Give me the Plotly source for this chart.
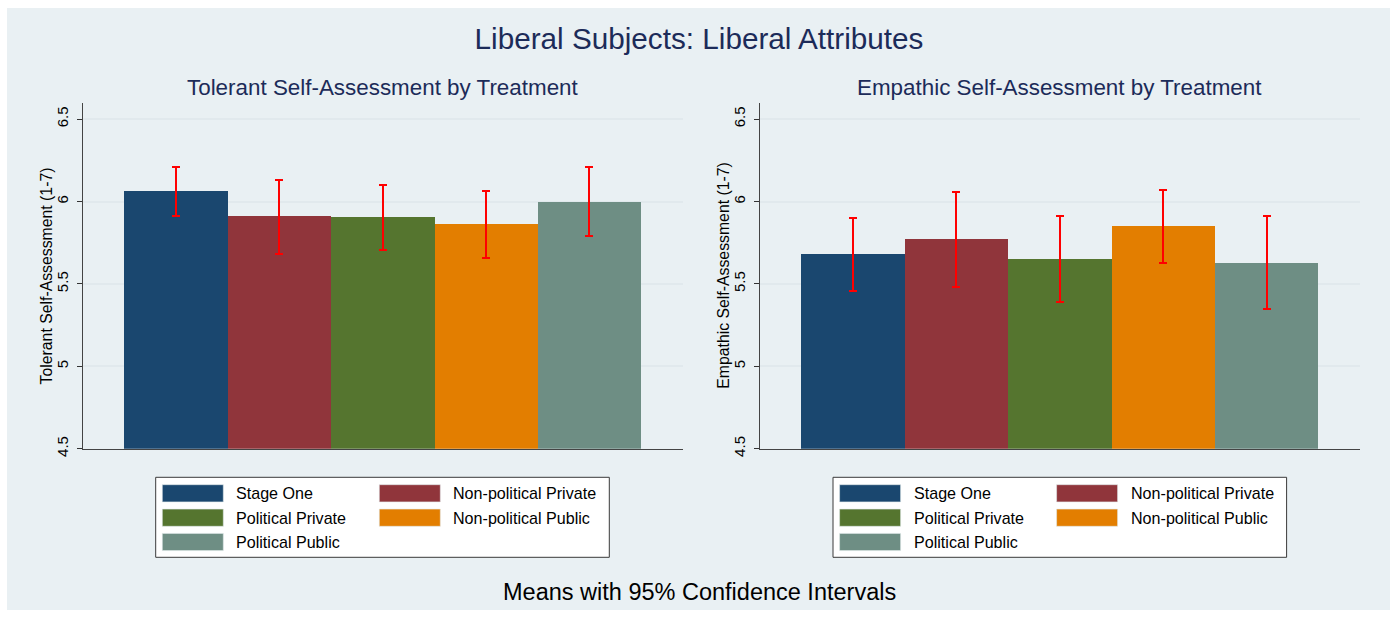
import plotly.graph_objects as go

# ---------------- data ----------------
treatments = ["Stage One", "Non-political Private", "Political Private",
              "Non-political Public", "Political Public"]
colors = ["#1a476f", "#90353b", "#55752f", "#e37e00", "#6e8e84"]

tolerant_mean = [6.064, 5.912, 5.906, 5.864, 6.000]
tolerant_lo = [5.912, 5.683, 5.707, 5.659, 5.789]
tolerant_hi = [6.212, 6.133, 6.099, 6.062, 6.210]

empathic_mean = [5.683, 5.772, 5.655, 5.851, 5.631]
empathic_lo = [5.458, 5.482, 5.391, 5.628, 5.345]
empathic_hi = [5.902, 6.060, 5.914, 6.070, 5.912]

y_ticks = [4.5, 5, 5.5, 6, 6.5]
y_ticktext = ["4.5", "5", "5.5", "6", "6.5"]

main_title = "Liberal Subjects: Liberal Attributes"
sub_titles = ["Tolerant Self-Assessment by Treatment",
              "Empathic Self-Assessment by Treatment"]
y_titles = ["Tolerant Self-Assessment (1-7)", "Empathic Self-Assessment (1-7)"]
note = "Means with 95% Confidence Intervals"

# ---------------- layout helpers ----------------
W, H = 1398, 618
YREF = 610.0   # effective rendered height used for paper fractions
FONT = "Liberation Sans, Arial, Helvetica, sans-serif"
TITLE_COLOR = "#1c2b59"
BG = "#e9f0f3"
GRID = "#e1e9ed"


def px(x):
    return x / W


def py(y):
    return max(0.0, 1 - y / YREF)


panels = [
    dict(x0=82.7, x1=682.5, xa="x", ya="y", mean=tolerant_mean, lo=tolerant_lo, hi=tolerant_hi),
    dict(x0=760.0, x1=1359.8, xa="x2", ya="y2", mean=empathic_mean, lo=empathic_lo, hi=empathic_hi),
]
plot_top, plot_bot = 102.7, 448.7

fig = go.Figure()

for p_i, p in enumerate(panels):
    fig.add_trace(go.Bar(
        x=list(range(len(treatments))), y=p["mean"], width=1.0,
        customdata=treatments,
        marker=dict(color=colors, line=dict(width=0)),
        error_y=dict(type="data", symmetric=False,
                     array=[h - m for h, m in zip(p["hi"], p["mean"])],
                     arrayminus=[m - l for m, l in zip(p["mean"], p["lo"])],
                     color="#ff0000", thickness=2, width=4),
        xaxis=p["xa"], yaxis=p["ya"], showlegend=False,
        hovertemplate="%{customdata}: %{y:.2f}<extra></extra>",
    ))

axis_common_y = dict(
    range=[4.5, 6.6], tickvals=y_ticks, ticktext=y_ticktext, tickangle=-90,
    ticks="outside", ticklen=5, tickwidth=1, tickcolor="#333333",
    ticklabelstandoff=3,
    showline=True, linecolor="#444444", linewidth=1.2,
    showgrid=True, gridcolor=GRID, gridwidth=1.5, zeroline=False,
    tickfont=dict(family=FONT, size=15, color="#000000"),
    domain=[py(plot_bot), py(plot_top)],
)
axis_common_x = dict(
    range=[-0.9, 4.9], showticklabels=False, ticks="", showgrid=False,
    zeroline=False, showline=True, linecolor="#444444", linewidth=1.2,
)

layout = dict(
    width=W, height=H, autosize=False,
    margin=dict(l=0, r=0, t=0, b=0, pad=0),
    paper_bgcolor="#ffffff", plot_bgcolor="#ffffff",
    bargap=0, showlegend=False,
    font=dict(family=FONT, color="#000000"),
    title=dict(text=main_title, x=0.5, xref="paper", xanchor="center",
               y=py(39), yref="paper", yanchor="middle",
               font=dict(family=FONT, size=29.7, color=TITLE_COLOR)),
)
for p_i, p in enumerate(panels):
    sfx = "" if p_i == 0 else "2"
    layout["xaxis" + sfx] = dict(axis_common_x, domain=[px(p["x0"]), px(p["x1"])],
                                 anchor="y" + sfx)
    layout["yaxis" + sfx] = dict(axis_common_y, anchor="x" + sfx)
fig.update_layout(**layout)

shapes = [dict(type="rect", xref="paper", yref="paper", x0=px(7), x1=px(1390),
               y0=py(618), y1=py(8), fillcolor=BG, line=dict(width=0), layer="below")]
annotations = []

for p_i, p in enumerate(panels):
    # subplot title
    annotations.append(dict(text=sub_titles[p_i], xref="paper", yref="paper",
                            x=px((p["x0"] + p["x1"]) / 2), y=py(88),
                            xanchor="center", yanchor="middle", showarrow=False,
                            font=dict(family=FONT, size=22.4, color=TITLE_COLOR)))
    # y-axis title
    annotations.append(dict(text=y_titles[p_i], xref="paper", yref="paper",
                            x=px(p["x0"] - 36), y=py((plot_top + plot_bot) / 2),
                            xanchor="center", yanchor="middle", textangle=-90,
                            showarrow=False,
                            font=dict(family=FONT, size=15.8, color="#000000")))
    # custom legend box
    off = p["x0"] - 82.7
    bx0, bx1, by0, by1 = 155.7 + off, 609.3 + off, 477.3, 557.3
    shapes.append(dict(type="rect", xref="paper", yref="paper",
                       x0=px(bx0), x1=px(bx1), y0=py(by1), y1=py(by0),
                       fillcolor="#ffffff", line=dict(color="#3a3a3a", width=1)))
    col_sw = [6.6, 223.6]
    col_tx = [78.5, 295.5]
    rows = [493.3, 517.7, 542.0]
    for i, name in enumerate(treatments):
        r, c = divmod(i, 2)
        sx = bx0 + col_sw[c]
        cy = rows[r]
        shapes.append(dict(type="rect", xref="paper", yref="paper",
                           x0=px(sx), x1=px(sx + 61), y0=py(cy + 8.6), y1=py(cy - 8.6),
                           fillcolor=colors[i], line=dict(color="#dfe7ea", width=0.6)))
        annotations.append(dict(text=name, xref="paper", yref="paper",
                                x=px(bx0 + col_tx[c]), y=py(cy),
                                xanchor="left", yanchor="middle", showarrow=False,
                                font=dict(family=FONT, size=16.1, color="#000000")))

annotations.append(dict(text=note, xref="paper", yref="paper", x=0.5, y=py(592),
                        xanchor="center", yanchor="middle", showarrow=False,
                        font=dict(family=FONT, size=23.5, color="#000000")))

fig.update_layout(shapes=shapes, annotations=annotations)
fig.write_html("out.html")
